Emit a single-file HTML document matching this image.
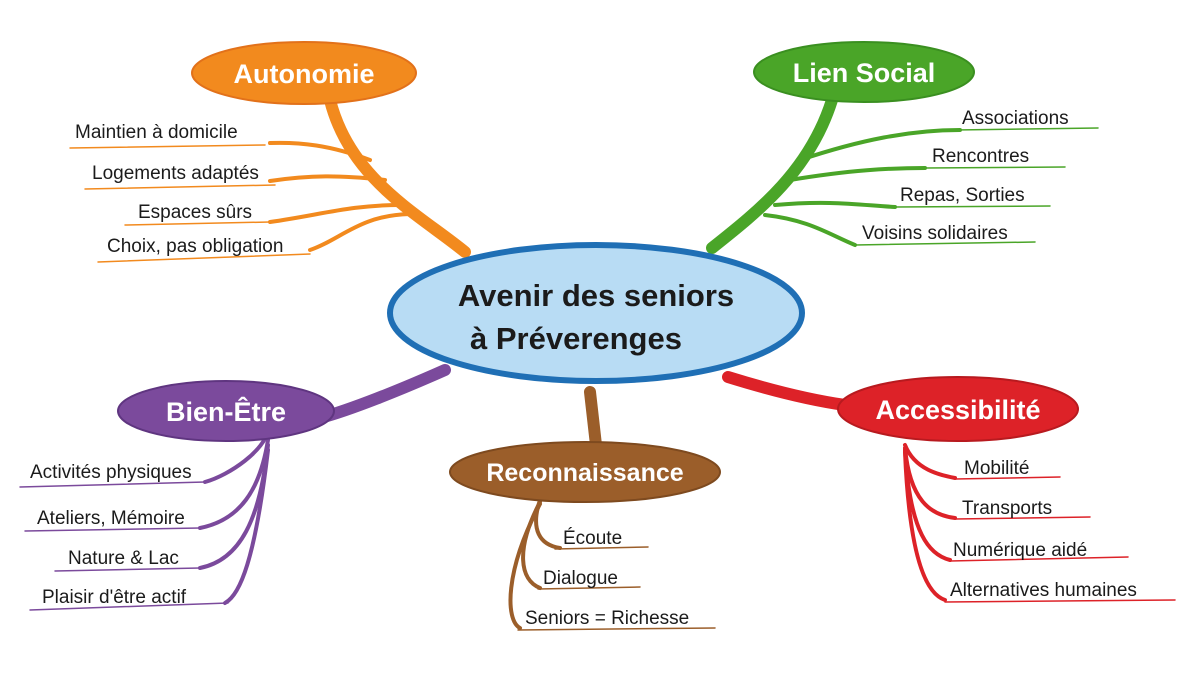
<!DOCTYPE html>
<html><head><meta charset="utf-8"><style>
html,body{margin:0;padding:0;background:#fff;width:1200px;height:674px;overflow:hidden}
svg{display:block}
.t{font-family:"Liberation Sans",sans-serif;font-size:19px;fill:#1b1b1b}
.h{font-family:"Liberation Sans",sans-serif;font-weight:bold;fill:#fff;text-anchor:middle}
</style></head><body>
<svg width="1200" height="674" viewBox="0 0 1200 674" xmlns="http://www.w3.org/2000/svg">
<g fill="none" stroke-linecap="round">
<!-- orange -->
<g stroke="#f28a1e">
<path d="M465 252 C420 215 350 180 330 100" stroke-width="12"/>
<path d="M370 160 C330 145 300 142 270 143" stroke-width="4"/>
<path d="M385 180 C340 175 310 175 270 181" stroke-width="4"/>
<path d="M400 205 C350 205 320 215 270 222" stroke-width="4"/>
<path d="M410 214 C360 215 340 240 310 250" stroke-width="4"/>
<g stroke-width="1.5"><path d="M70 148 L265 145"/><path d="M85 189 L275 185"/><path d="M125 225 L270 222"/><path d="M98 262 L310 254"/></g>
</g>
<!-- green -->
<g stroke="#4aa528">
<path d="M712 248 C760 210 810 170 832 100" stroke-width="12"/>
<path d="M800 160 C860 140 910 130 960 130" stroke-width="4"/>
<path d="M790 180 C850 170 890 168 925 168" stroke-width="4"/>
<path d="M775 205 C830 200 860 205 895 207" stroke-width="4"/>
<path d="M765 215 C810 220 830 235 855 245" stroke-width="4"/>
<g stroke-width="1.5"><path d="M955 130 L1098 128"/><path d="M925 168 L1065 167"/><path d="M895 207 L1050 206"/><path d="M855 245 L1035 242"/></g>
</g>
<!-- purple -->
<g stroke="#7b4a9c">
<path d="M445 370 C400 390 350 410 320 418" stroke-width="12"/>
<path d="M268 430 C265 450 230 475 205 482" stroke-width="4"/>
<path d="M268 440 C260 490 240 520 200 528" stroke-width="4"/>
<path d="M268 445 C260 520 240 560 200 568" stroke-width="4"/>
<path d="M268 450 C255 560 240 595 225 603" stroke-width="4"/>
<g stroke-width="1.5"><path d="M20 487 L205 482"/><path d="M25 531 L200 528"/><path d="M55 571 L200 568"/><path d="M30 610 L228 603"/></g>
</g>
<!-- red -->
<g stroke="#dd2228">
<path d="M728 377 C770 390 810 400 845 405" stroke-width="12"/>
<path d="M905 445 C915 470 940 475 955 478" stroke-width="4"/>
<path d="M905 448 C910 500 930 515 955 518" stroke-width="4"/>
<path d="M905 450 C910 535 930 555 950 560" stroke-width="4"/>
<path d="M905 452 C910 570 930 595 945 600" stroke-width="4"/>
<g stroke-width="1.5"><path d="M955 479 L1060 477"/><path d="M955 519 L1090 517"/><path d="M950 561 L1128 557"/><path d="M945 602 L1175 600"/></g>
</g>
<!-- brown -->
<g stroke="#9b5e2a">
<path d="M590 392 L596 445" stroke-width="12"/>
<path d="M540 500 C530 530 540 545 560 548" stroke-width="4"/>
<path d="M540 502 C515 550 520 580 540 588" stroke-width="4"/>
<path d="M540 504 C505 570 505 620 520 628" stroke-width="4"/>
<g stroke-width="1.5"><path d="M555 549 L648 547"/><path d="M538 589 L640 587"/><path d="M518 630 L715 628"/></g>
</g>
</g>
<!-- center -->
<ellipse cx="596" cy="313" rx="206" ry="68" fill="#b8dcf4" stroke="#1f6fb5" stroke-width="6"/>
<text x="596" y="306" text-anchor="middle" font-family="Liberation Sans,sans-serif" font-size="31" font-weight="bold" fill="#1b1b1b">Avenir des seniors</text>
<text x="576" y="349" text-anchor="middle" font-family="Liberation Sans,sans-serif" font-size="31" font-weight="bold" fill="#1b1b1b">à Préverenges</text>
<!-- topic nodes -->
<ellipse cx="304" cy="73" rx="112" ry="31" fill="#f28a1e" stroke="#e2711a" stroke-width="2"/>
<text class="h" x="304" y="83" font-size="27">Autonomie</text>
<ellipse cx="864" cy="72" rx="110" ry="30" fill="#4aa528" stroke="#3a8f20" stroke-width="2"/>
<text class="h" x="864" y="82" font-size="27">Lien Social</text>
<ellipse cx="226" cy="411" rx="108" ry="30" fill="#7b4a9c" stroke="#5f3580" stroke-width="2"/>
<text class="h" x="226" y="421" font-size="27">Bien-Être</text>
<ellipse cx="585" cy="472" rx="135" ry="30" fill="#9b5e2a" stroke="#7e4a1f" stroke-width="2"/>
<text class="h" x="585" y="481" font-size="25">Reconnaissance</text>
<ellipse cx="958" cy="409" rx="120" ry="32" fill="#dd2228" stroke="#b81a1f" stroke-width="2"/>
<text class="h" x="958" y="419" font-size="27">Accessibilité</text>
<!-- labels -->
<text class="t" x="75" y="138">Maintien à domicile</text>
<text class="t" x="92" y="179">Logements adaptés</text>
<text class="t" x="138" y="218">Espaces sûrs</text>
<text class="t" x="107" y="252">Choix, pas obligation</text>
<text class="t" x="962" y="124">Associations</text>
<text class="t" x="932" y="162">Rencontres</text>
<text class="t" x="900" y="201">Repas, Sorties</text>
<text class="t" x="862" y="239">Voisins solidaires</text>
<text class="t" x="30" y="478">Activités physiques</text>
<text class="t" x="37" y="524">Ateliers, Mémoire</text>
<text class="t" x="68" y="564">Nature &amp; Lac</text>
<text class="t" x="42" y="603">Plaisir d'être actif</text>
<text class="t" x="964" y="474">Mobilité</text>
<text class="t" x="962" y="514">Transports</text>
<text class="t" x="953" y="556">Numérique aidé</text>
<text class="t" x="950" y="596">Alternatives humaines</text>
<text class="t" x="563" y="544">Écoute</text>
<text class="t" x="543" y="584">Dialogue</text>
<text class="t" x="525" y="624">Seniors = Richesse</text>
</svg>
</body></html>
